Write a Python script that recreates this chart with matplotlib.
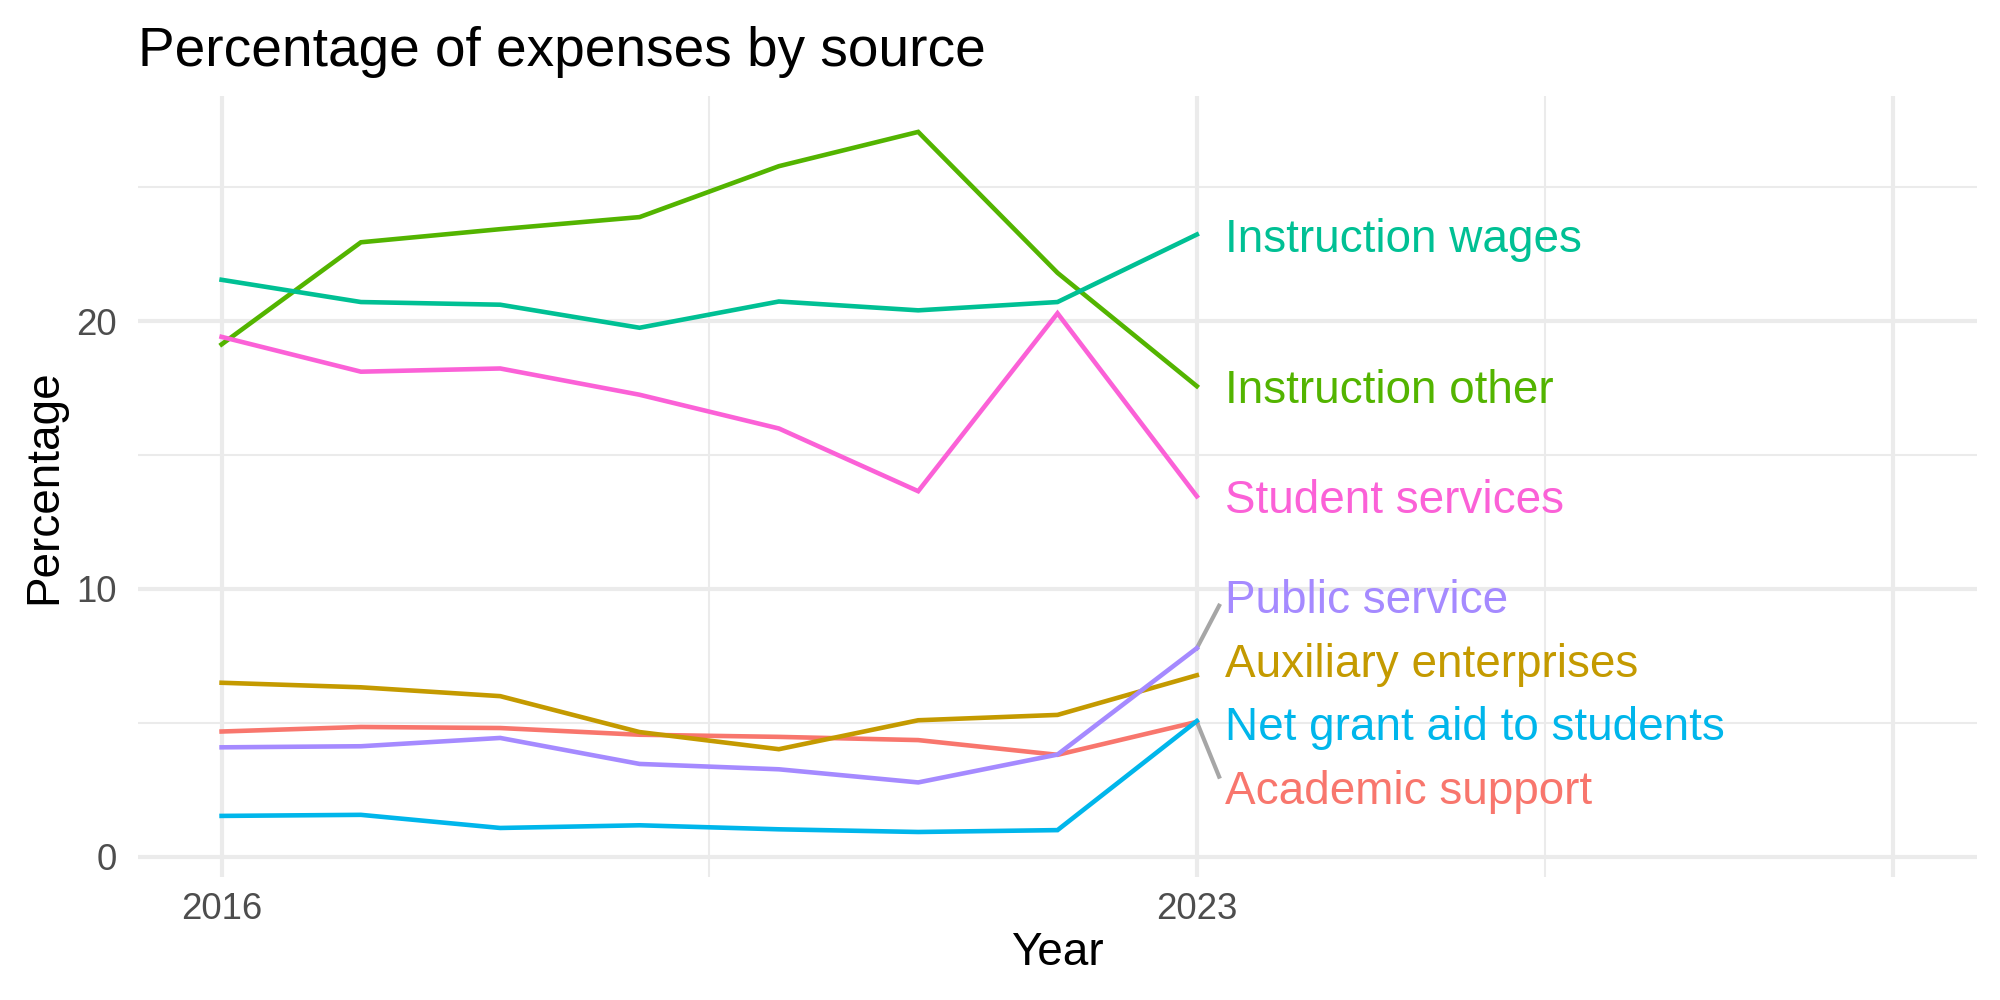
import matplotlib.pyplot as plt
import numpy as np

plt.rcParams['font.family'] = ['Liberation Sans', 'DejaVu Sans']

years = [2016, 2017, 2018, 2019, 2020, 2021, 2022, 2023]
sources = ['Academic support', 'Auxiliary enterprises', 'Instruction other',
           'Instruction wages', 'Net grant aid to students', 'Public service',
           'Student services']

academic_support = [4.68, 4.85, 4.81, 4.56, 4.48, 4.36, 3.81, 5.04]
auxiliary_enterprises = [6.50, 6.33, 6.00, 4.66, 4.02, 5.10, 5.30, 6.78]
instruction_other = [19.13, 22.94, 23.43, 23.88, 25.78, 27.06, 21.80, 17.57]
instruction_wages = [21.54, 20.71, 20.61, 19.75, 20.73, 20.40, 20.71, 23.23]
net_grant_aid = [1.53, 1.57, 1.08, 1.18, 1.03, 0.93, 1.00, 5.07]
public_service = [4.09, 4.13, 4.44, 3.47, 3.27, 2.78, 3.82, 7.79]
student_services = [19.41, 18.11, 18.23, 17.25, 15.99, 13.65, 20.29, 13.46]

series = [academic_support, auxiliary_enterprises, instruction_other,
          instruction_wages, net_grant_aid, public_service, student_services]
colors = ['#F8766D', '#C49A00', '#53B400', '#00C094', '#00B6EB', '#A58AFF', '#FB61D7']


def spread(targets, gap):
    # push labels apart vertically, keeping each overlapping group centred on its targets
    order = list(np.argsort(targets)[::-1])
    groups = [[i] for i in order]
    changed = True
    while changed:
        changed = False
        spans = []
        for g in groups:
            c = np.mean([targets[i] for i in g])
            spans.append((c + gap * (len(g) - 1) / 2, c - gap * (len(g) - 1) / 2))
        for k in range(len(groups) - 1):
            if spans[k][1] - spans[k + 1][0] < gap:
                groups[k] = groups[k] + groups[k + 1]
                del groups[k + 1]
                changed = True
                break
    out = {}
    for g in groups:
        c = np.mean([targets[i] for i in g])
        top = c + gap * (len(g) - 1) / 2
        for j, i in enumerate(g):
            out[i] = top - j * gap
    return out


fig = plt.figure(figsize=(20 / 3, 10 / 3), dpi=300)
ax = fig.add_axes([0.069, 0.123, 0.9195, 0.781])

ax.set_xlim(2015.4, 2028.6)
ax.set_ylim(-0.75, 28.4)
ax.set_xticks([2016, 2023, 2028])
ax.set_xticklabels(['2016', '2023', ''])
ax.set_xticks([2019.5, 2025.5], minor=True)
ax.set_yticks([0, 10, 20])
ax.set_yticks([5, 15, 25], minor=True)
ax.grid(which='major', color='#EBEBEB', linewidth=1.0)
ax.grid(which='minor', color='#EBEBEB', linewidth=0.5)
ax.set_axisbelow(True)
for s in ax.spines.values():
    s.set_visible(False)
ax.tick_params(which='both', length=0)
ax.tick_params(axis='x', pad=3.5, labelsize=8.8, labelcolor='#4D4D4D')
ax.tick_params(axis='y', pad=5, labelsize=8.8, labelcolor='#4D4D4D')

for vals, col in zip(series, colors):
    ax.plot(years, vals, color=col, linewidth=1.1, solid_joinstyle='miter')

ends = [v[-1] for v in series]
label_y = spread(ends, 2.37)
for i, name in enumerate(sources):
    ly = label_y[i]
    if abs(ly - ends[i]) > 1.0:
        edge = ly - 0.35 if ly > ends[i] else ly + 0.38
        ax.plot([years[-1], years[-1] + 0.16], [ends[i], edge], color='#A6A6A6',
                linewidth=1.0, zorder=1)
    ax.text(years[-1] + 0.2, ly, name, color=colors[i], fontsize=11,
            ha='left', va='center_baseline')

ax.set_xlabel('Year', fontsize=11, labelpad=1)
ax.set_ylabel('Percentage', fontsize=11, labelpad=2.5)
fig.text(0.069, 0.934, 'Percentage of expenses by source', fontsize=13.2,
         ha='left', va='baseline')

fig.savefig('out.png', dpi=300)
